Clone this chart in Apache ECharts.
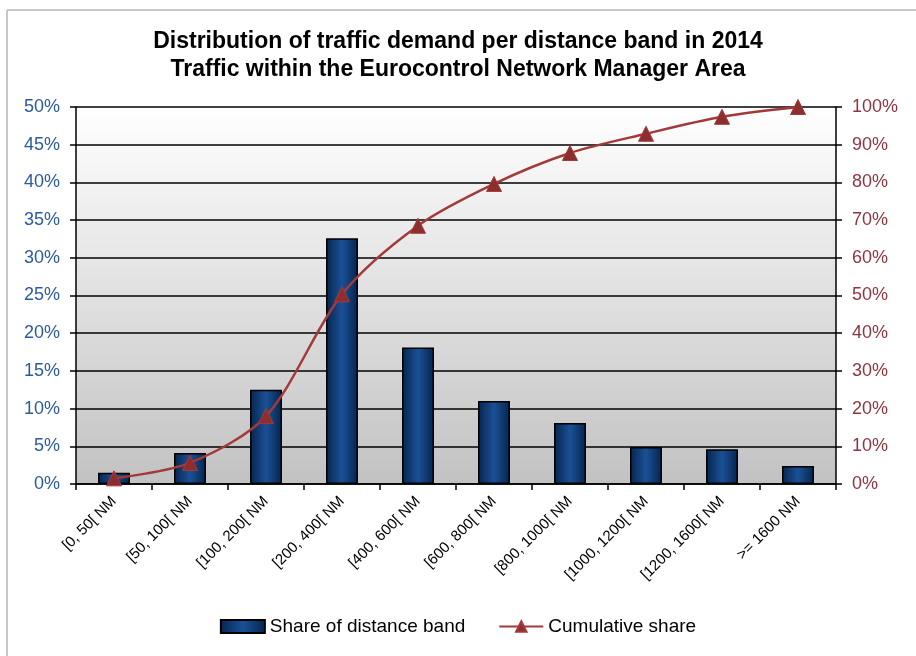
<!DOCTYPE html>
<html>
<head>
<meta charset="utf-8">
<script src="https://cdn.jsdelivr.net/npm/echarts@6/dist/echarts.min.js"></script>
<style>
  html, body { margin: 0; padding: 0; background: #fff; }
  #main { width: 916px; height: 656px; }
</style>
</head>
<body>
<div id="main"></div>
<script>
// distance bands and shares (in %)
var bands = ['[0, 50[ NM', '[50, 100[ NM', '[100, 200[ NM', '[200, 400[ NM', '[400, 600[ NM',
  '[600, 800[ NM', '[800, 1000[ NM', '[1000, 1200[ NM', '[1200, 1600[ NM', '>= 1600 NM'];
var shareOfBand = [1.5, 4.1, 12.5, 32.6, 18.1, 11.0, 8.1, 4.9, 4.6, 2.4];
var cumulativeShare = [1.5, 5.6, 18.0, 50.3, 68.5, 79.6, 87.8, 92.9, 97.4, 100];

var myChart = echarts.init(document.getElementById('main'));

var barFill = new echarts.graphic.LinearGradient(0, 0, 1, 0, [
  {offset: 0, color: '#05254d'},
  {offset: 0.5, color: '#1a5096'},
  {offset: 1, color: '#05254d'}
]);

var option = {
  animation: false,
  textStyle: {fontFamily: 'Liberation Sans, Arial, sans-serif'},
  title: {
    text: 'Distribution of traffic demand per distance band in 2014\nTraffic within the Eurocontrol Network Manager Area',
    left: 'center',
    top: 23,
    textStyle: {fontSize: 23, fontWeight: 'bold', color: '#000', lineHeight: 28}
  },
  // frame lines of the original picture
  graphic: [
    {type: 'line', shape: {x1: 7, y1: 10, x2: 916, y2: 10}, style: {stroke: '#c8c8c8', lineWidth: 2}},
    {type: 'line', shape: {x1: 7, y1: 10, x2: 7, y2: 656}, style: {stroke: '#c8c8c8', lineWidth: 2}}
  ],
  legend: {
    bottom: 15,
    left: 'center',
    itemGap: 33,
    itemWidth: 44,
    itemHeight: 13,
    textStyle: {fontSize: 19, color: '#000'},
    data: [
      {name: 'Share of distance band', icon: 'rect'},
      {name: 'Cumulative share'}
    ]
  },
  grid: {
    left: 76,
    right: 80,
    top: 107,
    bottom: 172,
    show: true,
    borderWidth: 0,
    backgroundColor: new echarts.graphic.LinearGradient(0, 0, 0, 1, [
      {offset: 0, color: '#ffffff'},
      {offset: 1, color: '#c2c2c2'}
    ])
  },
  xAxis: {
    type: 'category',
    data: bands,
    axisLine: {lineStyle: {color: '#000', width: 1.5}},
    axisTick: {show: true, length: 6, lineStyle: {color: '#000', width: 1.5}},
    axisLabel: {rotate: 45, fontSize: 15, color: '#000', margin: 15, interval: 0}
  },
  yAxis: [
    {
      type: 'value',
      min: 0,
      max: 50,
      interval: 5,
      axisLine: {show: true, lineStyle: {color: '#000', width: 1.5}},
      axisTick: {show: true, length: 6, lineStyle: {color: '#000', width: 1.5}},
      splitLine: {lineStyle: {color: '#000', width: 1.5}},
      axisLabel: {formatter: '{value}%', fontSize: 18, color: '#2c5a9c', margin: 16}
    },
    {
      type: 'value',
      min: 0,
      max: 100,
      interval: 10,
      position: 'right',
      axisLine: {show: true, lineStyle: {color: '#000', width: 1.5}},
      axisTick: {show: true, length: 6, lineStyle: {color: '#000', width: 1.5}},
      splitLine: {show: false},
      axisLabel: {formatter: '{value}%', fontSize: 18, color: '#8e3540', margin: 16}
    }
  ],
  series: [
    {
      name: 'Share of distance band',
      type: 'bar',
      data: shareOfBand,
      barWidth: 32,
      itemStyle: {color: barFill, borderColor: '#000', borderWidth: 1.5}
    },
    {
      name: 'Cumulative share',
      type: 'line',
      yAxisIndex: 1,
      data: cumulativeShare,
      smooth: 0.3,
      symbol: 'triangle',
      symbolSize: 15,
      lineStyle: {color: '#a33a3a', width: 2.5},
      itemStyle: {color: '#8c2e2e', borderColor: '#a33a3a', borderWidth: 1}
    }
  ]
};

myChart.setOption(option);
</script>
</body>
</html>
